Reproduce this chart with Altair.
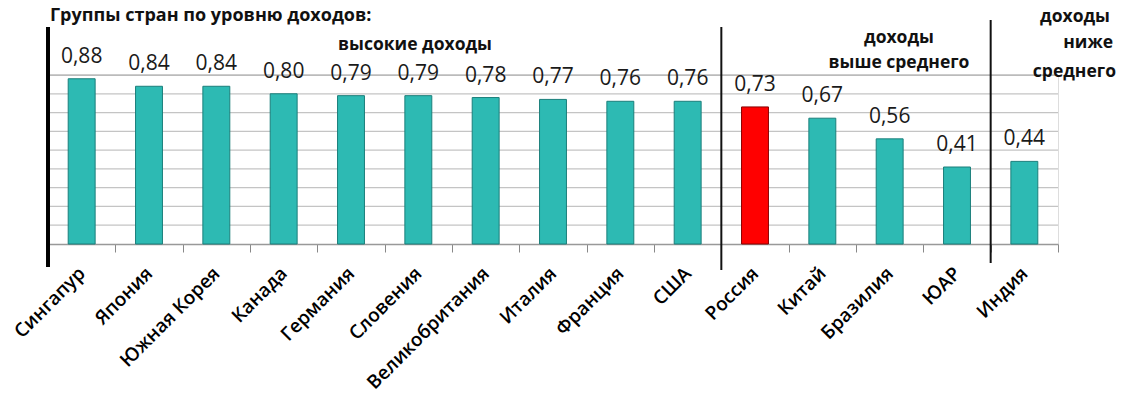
import altair as alt
import pandas as pd

countries = ["Сингапур", "Япония", "Южная Корея", "Канада", "Германия", "Словения",
             "Великобритания", "Италия", "Франция", "США", "Россия", "Китай",
             "Бразилия", "ЮАР", "Индия"]
values = [0.88, 0.84, 0.84, 0.80, 0.79, 0.79, 0.78, 0.77, 0.76, 0.76,
          0.73, 0.67, 0.56, 0.41, 0.44]
highlight = "Россия"
grid_values = [0.1, 0.2, 0.3, 0.4, 0.5, 0.6, 0.7, 0.8]
top_value = 0.9

df = pd.DataFrame({
    "country": countries,
    "value": values,
    "label": [f"{v:.2f}".replace(".", ",") for v in values],
    "is_hl": [c == highlight for c in countries],
})

FONT = "Open Sans"
W, H = 1010, 169

x_scale = alt.Scale(domain=countries, paddingInner=0, paddingOuter=0)
x_axis = alt.Axis(title=None, labelAngle=-45, labelAlign="right",
                  labelBaseline="middle", labelPadding=18,
                  labelFontSize=19, labelFontWeight=600, labelFont=FONT,
                  labelColor="#000", tickBand="extent", tickSize=8,
                  tickColor="#888", domainColor="#999", domainWidth=1.5,
                  labelOverlap=False)
y_scale = alt.Scale(domain=[0, 0.9], nice=False)

base = alt.Chart(df)

grid = alt.Chart(pd.DataFrame({"g": grid_values})).mark_rule(
    color="#c4c4c4", strokeWidth=1.2).encode(
    y=alt.Y("g:Q", scale=y_scale, axis=None))

top_line = alt.Chart(pd.DataFrame({"g": [top_value]})).mark_rule(
    color="#9a9a9a", strokeWidth=1.2).encode(
    y=alt.Y("g:Q", scale=y_scale, axis=None))

bars = base.mark_bar(width=alt.RelativeBandSize(0.4), strokeWidth=1).encode(
    x=alt.X("country:N", scale=x_scale, axis=x_axis),
    y=alt.Y("value:Q", scale=y_scale, axis=None),
    color=alt.condition("datum.is_hl", alt.value("#FF0000"), alt.value("#2DBAB3")),
    stroke=alt.condition("datum.is_hl", alt.value("#8a0000"), alt.value("#1B7F7B")),
)

labels = base.mark_text(baseline="alphabetic", dy=-16, fontSize=21, font=FONT,
                        color="#1a1a1a").encode(
    x=alt.X("country:N", scale=x_scale),
    y=alt.Y("value:Q", scale=y_scale),
    text="label:N",
)

sep1 = alt.Chart(pd.DataFrame({"country": ["Россия"]})).mark_rule(
    color="#111", strokeWidth=2).encode(
    x=alt.X("country:N", scale=x_scale, bandPosition=0),
    y=alt.value(-48), y2=alt.value(195))
sep2 = alt.Chart(pd.DataFrame({"country": ["Индия"]})).mark_rule(
    color="#111", strokeWidth=2).encode(
    x=alt.X("country:N", scale=x_scale, bandPosition=0),
    y=alt.value(-55), y2=alt.value(188))

left_axis = alt.Chart(df).mark_rule(color="#000", strokeWidth=2.5).encode(
    x=alt.value(0), y=alt.value(-48), y2=alt.value(192))

def txt(s, x, y, align="center", size=17.5):
    return alt.Chart(pd.DataFrame({"t": [s]})).mark_text(
        font=FONT, fontSize=size, fontWeight="bold", color="#111",
        align=align, baseline="middle").encode(
        text="t:N", x=alt.value(x), y=alt.value(y))

notes = [
    txt("Группы стран по уровню доходов:", 2, -59, align="left", size=18),
    txt("высокие доходы", 367, -30),
    txt("доходы", 851, -37),
    txt("выше среднего", 851, -12),
    txt("доходы", 1062, -58, align="right"),
    txt("ниже", 1065, -32, align="right"),
    txt("среднего", 1068, -3, align="right"),
]

chart = alt.layer(grid, top_line, bars, labels, sep1, sep2, left_axis, *notes).properties(
    width=W, height=H,
    autosize=alt.AutoSizeParams(type="none"),
    padding={"left": 48, "top": 75, "right": 63, "bottom": 155},
).configure_view(stroke=None).configure(background="white")

chart.save("out.html", embed_options={"renderer": "svg", "actions": False})
